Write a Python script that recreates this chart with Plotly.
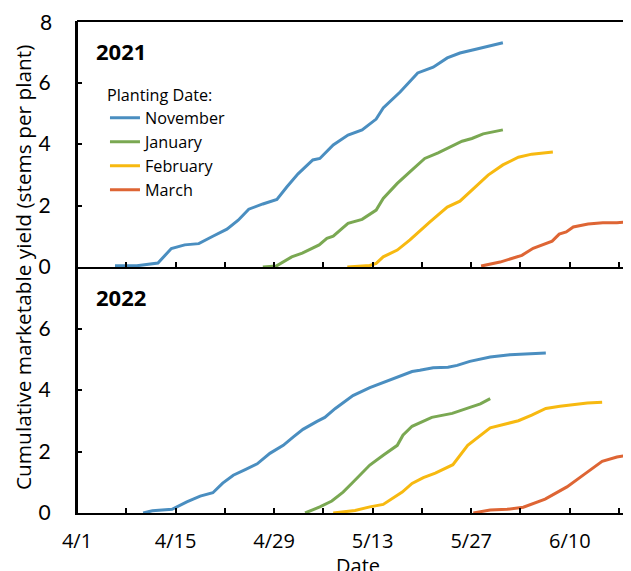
import plotly.graph_objects as go
from plotly.subplots import make_subplots

# x values: days after April 1
tick_days = [0, 7, 14, 21, 28, 35, 42, 49, 56, 63, 70, 77]
tick_labels = ["4/1", "", "4/15", "", "4/29", "", "5/13", "", "5/27", "", "6/10", ""]
y_ticks = [0, 2, 4, 6]
y_top_label = "8"

series_names = ["November", "January", "February", "March"]
colors = ["#4A8EC0", "#7AA852", "#F7B910", "#DE6534"]

# 2021
nov21_d = [5.4, 8.5, 11.5, 13.4, 15.3, 17.3, 19.3, 21.3, 22.9, 24.4, 26.4, 28.4, 29.8, 31.4, 33.5, 34.5,
           36.4, 38.5, 40.5, 42.5, 43.5, 45.9, 48.4, 50.6, 52.6, 54.4, 56.8, 58.7, 60.5]
nov21_v = [0.04, 0.04, 0.13, 0.60, 0.72, 0.76, 1.00, 1.23, 1.52, 1.88, 2.05, 2.20, 2.60, 3.03, 3.48, 3.53,
           3.97, 4.29, 4.46, 4.81, 5.17, 5.69, 6.31, 6.50, 6.80, 6.96, 7.09, 7.19, 7.29]
jan21_d = [26.4, 28.3, 30.5, 32.0, 34.4, 35.5, 36.4, 38.5, 40.5, 42.5, 43.5, 45.5, 47.6, 49.4, 51.3, 53.0,
           54.7, 56.1, 57.7, 60.5]
jan21_v = [0.00, 0.03, 0.33, 0.45, 0.72, 0.93, 1.00, 1.42, 1.55, 1.85, 2.23, 2.72, 3.16, 3.53, 3.71, 3.91,
           4.09, 4.18, 4.33, 4.46]
feb21_d = [38.4, 41.6, 42.5, 43.5, 45.5, 47.3, 50.1, 52.6, 54.4, 56.1, 58.4, 60.5, 62.7, 64.6, 67.6]
feb21_v = [0.00, 0.05, 0.12, 0.33, 0.55, 0.88, 1.46, 1.95, 2.14, 2.50, 2.99, 3.32, 3.57, 3.67, 3.74]
mar21_d = [57.4, 60.1, 63.2, 64.8, 67.5, 68.5, 69.5, 70.5, 72.6, 74.7, 76.7, 78.7, 79.5]
mar21_v = [0.03, 0.16, 0.38, 0.61, 0.84, 1.07, 1.14, 1.30, 1.40, 1.44, 1.44, 1.47, 1.48]

# 2022
nov22_d = [9.4, 10.7, 13.5, 15.6, 17.5, 19.3, 20.7, 22.2, 23.9, 25.6, 27.4, 29.3, 30.7, 32.1, 34.1, 35.2,
           36.7, 39.2, 41.6, 44.0, 46.3, 47.6, 48.7, 50.6, 52.7, 54.0, 55.8, 58.7, 61.5, 63.9, 66.6]
nov22_v = [0.00, 0.07, 0.12, 0.36, 0.55, 0.66, 0.97, 1.23, 1.41, 1.60, 1.94, 2.20, 2.47, 2.72, 2.98, 3.11,
           3.40, 3.82, 4.08, 4.28, 4.47, 4.60, 4.64, 4.72, 4.74, 4.80, 4.93, 5.07, 5.15, 5.17, 5.20]
jan22_d = [32.4, 34.5, 36.2, 37.8, 39.2, 41.6, 43.5, 45.5, 46.3, 47.6, 50.4, 53.3, 55.4, 57.3, 58.7]
jan22_v = [0.00, 0.20, 0.39, 0.68, 1.00, 1.56, 1.88, 2.20, 2.53, 2.82, 3.11, 3.24, 3.40, 3.55, 3.72]
feb22_d = [36.4, 39.5, 41.6, 43.5, 46.2, 47.6, 49.2, 50.9, 53.4, 55.5, 58.7, 62.7, 64.6, 66.6, 68.6, 70.5,
           72.5, 74.6]
feb22_v = [0.00, 0.08, 0.20, 0.28, 0.68, 0.96, 1.15, 1.30, 1.57, 2.20, 2.77, 3.00, 3.18, 3.40, 3.47, 3.53,
           3.58, 3.60]
mar22_d = [56.3, 58.7, 61.1, 63.4, 66.5, 69.6, 72.2, 74.6, 76.7, 78.7, 79.5]
mar22_v = [0.00, 0.10, 0.12, 0.19, 0.45, 0.85, 1.28, 1.68, 1.82, 1.90, 1.92]

data21 = [(nov21_d, nov21_v), (jan21_d, jan21_v), (feb21_d, feb21_v), (mar21_d, mar21_v)]
data22 = [(nov22_d, nov22_v), (jan22_d, jan22_v), (feb22_d, feb22_v), (mar22_d, mar22_v)]

FONT = "Open Sans"
YFONT = "Lato"

fig = make_subplots(rows=2, cols=1, shared_xaxes=True, vertical_spacing=0)

for i, (d, v) in enumerate(data21):
    fig.add_trace(go.Scatter(x=d, y=v, mode="lines", name=series_names[i],
                             line=dict(color=colors[i], width=3), showlegend=True), row=1, col=1)
for i, (d, v) in enumerate(data22):
    fig.add_trace(go.Scatter(x=d, y=v, mode="lines", name=series_names[i],
                             line=dict(color=colors[i], width=3), showlegend=False), row=2, col=1)

xcommon = dict(range=[0, 78.7], tickmode="array", tickvals=tick_days, ticktext=tick_labels,
               ticks="inside", ticklen=5, tickwidth=2, tickcolor="black", automargin=False,
               showline=True, linecolor="black", linewidth=2, showgrid=False, zeroline=False,
               tickfont=dict(family=FONT, size=20, color="black"))
fig.update_xaxes(**xcommon)
fig.update_xaxes(showticklabels=False, row=1, col=1)
fig.update_xaxes(showticklabels=True, ticklabelstandoff=9, row=2, col=1)

ycommon = dict(range=[0, 8], tickvals=y_ticks, ticks="inside", ticklen=5, tickwidth=2, tickcolor="black",
               automargin=False, showline=True, linecolor="black", linewidth=2, showgrid=False,
               zeroline=False, ticklabelstandoff=20, tickfont=dict(family=YFONT, size=21, color="black"))
fig.update_yaxes(**ycommon)

# frame: top border and left axis line
fig.add_shape(type="line", xref="paper", yref="paper", x0=0, x1=1, y0=1, y1=1, layer="above",
              line=dict(color="black", width=2))
fig.add_shape(type="line", xref="paper", yref="paper", x0=0, x1=0, y0=0, y1=1, layer="above",
              line=dict(color="black", width=2))

# top value label of the upper panel's y axis
fig.add_annotation(text=y_top_label, xref="paper", yref="y", x=-0.0415, y=8,
                   xanchor="right", yanchor="middle", showarrow=False,
                   font=dict(family=YFONT, size=21, color="black"))

fig.add_annotation(text="<b>2021</b>", xref="paper", yref="paper", x=0.0794, y=0.939,
                   xanchor="center", yanchor="middle",
                   showarrow=False, font=dict(family=FONT, size=22, color="black"))
fig.add_annotation(text="<b>2022</b>", xref="paper", yref="paper", x=0.0794, y=0.439,
                   xanchor="center", yanchor="middle",
                   showarrow=False, font=dict(family=FONT, size=22, color="black"))
fig.add_annotation(text="Cumulative marketable yield (stems per plant)", xref="paper", yref="paper",
                   x=-0.0975, y=0.5, xanchor="center", yanchor="middle", textangle=-90, showarrow=False,
                   font=dict(family=FONT, size=20.8, color="black"))
fig.add_annotation(text="Date", xref="paper", yref="paper", x=0.507, y=-0.1057,
                   xanchor="center", yanchor="middle",
                   showarrow=False, font=dict(family=FONT, size=20, color="black"))

fig.update_layout(
    width=623, height=563,
    margin=dict(l=69, r=0, t=13, b=58, autoexpand=False),
    plot_bgcolor="white", paper_bgcolor="white",
    legend=dict(x=0.0505, y=0.881, xanchor="left", yanchor="top",
                title=dict(text="Planting Date:", font=dict(family=FONT, size=16.2, color="black")),
                font=dict(family=FONT, size=16.2, color="black"),
                bgcolor="rgba(0,0,0,0)", itemwidth=30, tracegroupgap=0),
)

fig.write_html("out.html")
